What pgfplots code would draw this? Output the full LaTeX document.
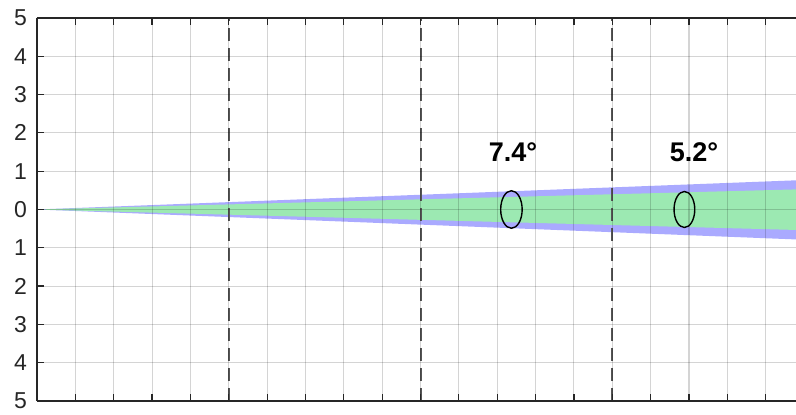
\documentclass[border=0pt]{standalone}
\usepackage{pgfplots}
\pgfplotsset{compat=1.18}
\usepackage{fontspec}
\setmainfont{Liberation Sans}
\definecolor{wedgeblue}{RGB}{170,170,255}
\definecolor{wedgegreen}{RGB}{156,233,178}
\definecolor{axgray}{RGB}{38,38,38}
\definecolor{dashgray}{RGB}{85,85,85}
\begin{document}
\begin{tikzpicture}
\begin{axis}[
  at={(0,0)}, anchor=south west,
  scale only axis, width=379.5pt, height=191.5pt,
  xmin=0, xmax=19.79, ymin=-5, ymax=5,
  axis y line*=left,
  axis line style={axgray, line width=0.6pt},
  xtick={0,1,...,19}, xticklabels={},
  ytick={-5,-4,...,5},
  yticklabels={5,4,3,2,1,0,1,2,3,4,5},
  tick align=inside,
  major tick length=3.5pt,
  tick style={axgray, line width=0.6pt},
  grid=major,
  grid style={black, opacity=0.17, line width=0.55pt},
  yticklabel style={font=\fontsize{11.5}{13}\selectfont, text=axgray, xshift=-1.5pt},
  axis on top,
  clip=true,
]
\addplot[draw=none, fill=wedgeblue] coordinates {(0,0) (20,0.77) (20,-0.79) (0,0)};
\addplot[draw=none, fill=wedgegreen] coordinates {(0,0) (20,0.53) (20,-0.54) (0,0)};
\addplot[dashgray, line width=1pt, dash pattern=on 6.3pt off 3.7pt] coordinates {(5,-5) (5,5)};
\addplot[dashgray, line width=1pt, dash pattern=on 6.3pt off 3.7pt] coordinates {(10,-5) (10,5)};
\addplot[dashgray, line width=1pt, dash pattern=on 6.3pt off 3.7pt] coordinates {(15,-5) (15,5)};
\draw[black, line width=0.7pt] (axis cs:12.37,0) ellipse [x radius=0.28, y radius=0.49];
\draw[black, line width=0.7pt] (axis cs:16.88,0) ellipse [x radius=0.27, y radius=0.47];
\node[font=\fontsize{13.5}{15}\selectfont\bfseries] at (axis cs:12.41,1.5) {7.4°};
\node[font=\fontsize{13.5}{15}\selectfont\bfseries] at (axis cs:17.13,1.5) {5.2°};
\end{axis}
\pgfresetboundingbox
\path[use as bounding box] (-18.5pt,-7pt) rectangle (379.5pt,200.5pt);
\end{tikzpicture}
\end{document}
